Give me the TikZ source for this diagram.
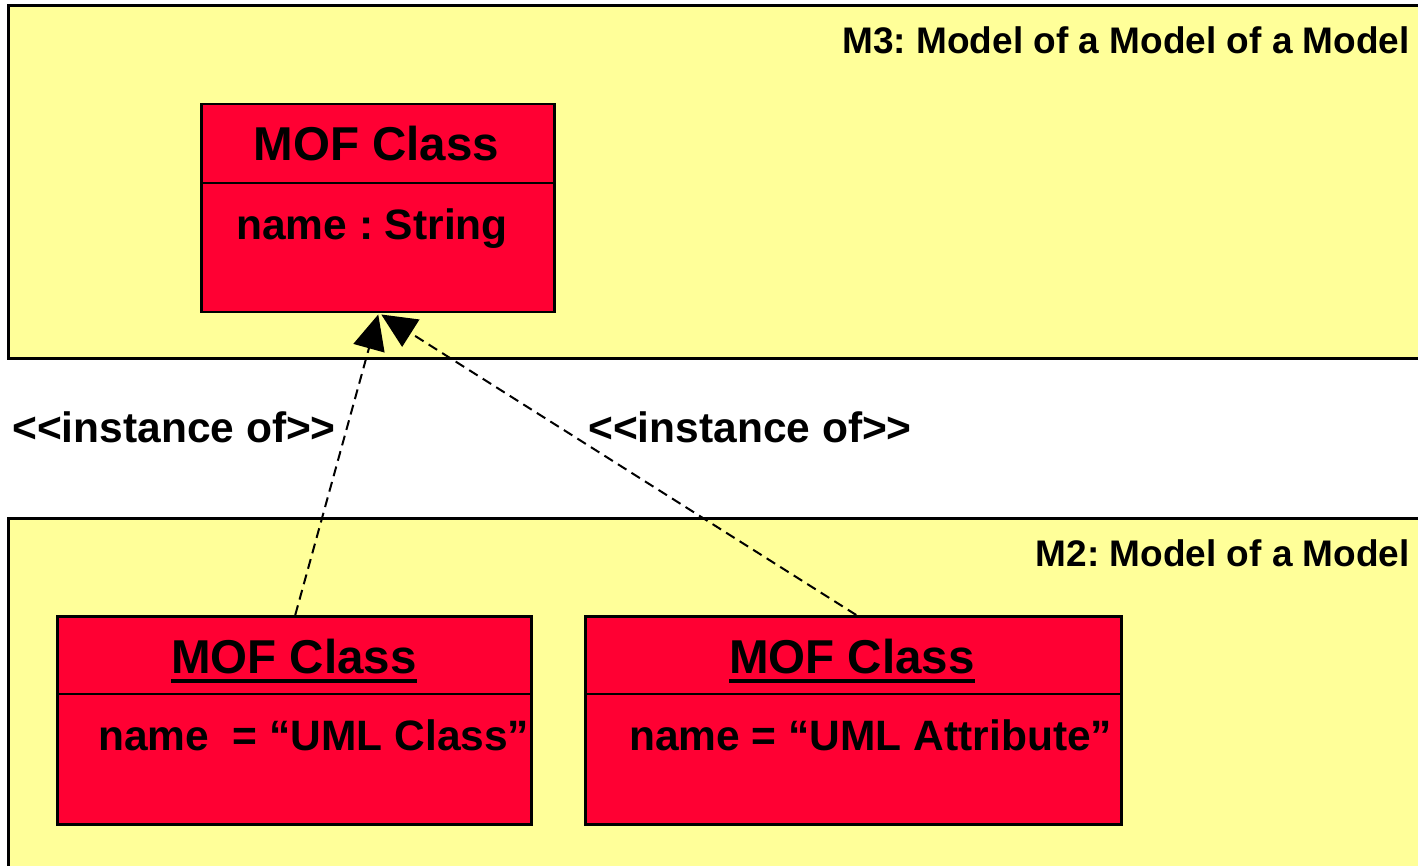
\documentclass[tikz,border=0pt]{standalone}
\usepackage{fontspec}
\setmainfont{Liberation Sans}
\frenchspacing
\usetikzlibrary{arrows.meta}
\definecolor{paneyellow}{HTML}{FFFF99}
\definecolor{classred}{HTML}{FF0033}
\tikzset{
  pane/.style={draw=black, line width=3pt, fill=paneyellow},
  classbox/.style={draw=black, line width=2.5pt, fill=classred, inner sep=0pt, anchor=north west},
  divider/.style={draw=black, line width=2.5pt},
  ctitle/.style={font=\bfseries\fontsize{47.5}{50}\selectfont, inner sep=0pt, anchor=base},
  cattr/.style={font=\bfseries\fontsize{42.5}{45}\selectfont, inner sep=0pt, anchor=base},
  panelabel/.style={font=\bfseries\fontsize{37}{40}\selectfont, inner sep=0pt, anchor=base east},
  stereo/.style={font=\bfseries\fontsize{42.5}{45}\selectfont, inner sep=0pt, anchor=base west},
  instanceof/.style={line width=2pt, dash pattern=on 10pt off 6pt,
    -{Triangle[length=35pt,width=32pt]}},
}
\begin{document}
\begin{tikzpicture}[x=1pt,y=-1pt]
\useasboundingbox (0,0) rectangle (1418,866);
\clip (0,0) rectangle (1418,866);

% layer panels
\draw[pane] (8,6) rectangle (1440,358);
\draw[pane] (8,518) rectangle (1440,900);
\node[panelabel] (m3) at (1410,54) {M3: Model of a Model of a Model};
\node[panelabel] (m2) at (1410,566) {M2: Model of a Model};

% M3 class
\node[classbox, minimum width=353pt, minimum height=208pt] (mof) at (200,103) {};
\draw[divider] ([yshift=-80pt]mof.north west) -- ([yshift=-80pt]mof.north east);
\node[ctitle] (moft) at (376.5,161) {MOF Class};
\node[cattr] (mofa) at (372,240) {name : String};

% M2 instances
\node[classbox, minimum width=474pt, minimum height=208pt] (umlc) at (56,615) {};
\draw[divider] ([yshift=-79pt]umlc.north west) -- ([yshift=-79pt]umlc.north east);
\node[ctitle] (umlct) at (294,673) {MOF Class};
\draw[line width=4pt] ([yshift=-8pt]umlct.base west) -- ([yshift=-8pt]umlct.base east);
\node[cattr, anchor=base west] (umlca) at (98,750) {name\ \ = “UML Class”};

\node[classbox, minimum width=536pt, minimum height=208pt] (umla) at (584,615) {};
\draw[divider] ([yshift=-79pt]umla.north west) -- ([yshift=-79pt]umla.north east);
\node[ctitle] (umlat) at (852,673) {MOF Class};
\draw[line width=4pt] ([yshift=-8pt]umlat.base west) -- ([yshift=-8pt]umlat.base east);
\node[cattr, anchor=base west] (umlaa) at (629,750) {name = “UML Attribute”};

% instance-of dependencies
\draw[instanceof] ([xshift=1pt]umlc.north) -- ([xshift=0.5pt,yshift=-1pt]mof.south);
\draw[instanceof] ([xshift=3pt]umla.north) -- ([xshift=3.5pt,yshift=-1pt]mof.south);
\node[stereo] (lbl1) at (12,442) {<{}<instance of>{}>};
\node[stereo] (lbl2) at (588,442) {<{}<instance of>{}>};
\end{tikzpicture}
\end{document}
